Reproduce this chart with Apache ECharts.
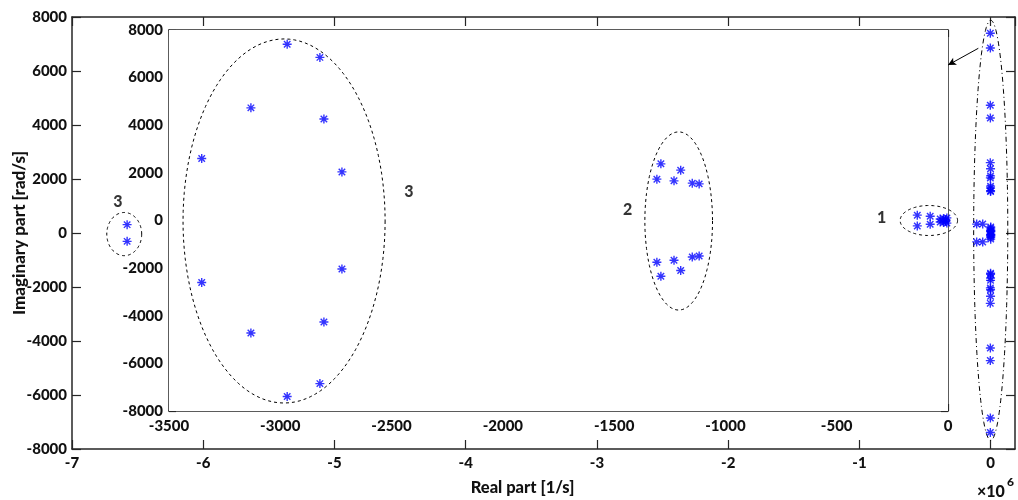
<!DOCTYPE html>
<html>
<head>
<meta charset="utf-8">
<script src="https://cdn.jsdelivr.net/npm/echarts@6/dist/echarts.min.js"></script>
<style>
html,body{margin:0;padding:0;background:#fff;}
#chart{width:1018px;height:500px;}
</style>
</head>
<body>
<div id="chart"></div>
<script>
// ---- data (real part [1/s], imaginary part [rad/s]) ----
const cluster3Poles = [
  [-2969, 7400], [-2822, 6850], [-3132, 4730], [-2804, 4260], [-3353, 2606], [-2723, 2040],
  [-2969, -7390], [-2822, -6850], [-3132, -4725], [-2804, -4262], [-3353, -2606], [-2723, -2034]
];
const cluster2Poles = [
  [-1290, 2380], [-1201, 2114], [-1308, 1736], [-1231, 1665], [-1149, 1568], [-1118, 1538],
  [-1290, -2341], [-1201, -2102], [-1308, -1753], [-1231, -1669], [-1149, -1530], [-1118, -1488]
];
const cluster1Poles = [
  [-138, 225], [-138, -227], [-80, 181], [-80, -155],
  [-35, 60], [-35, -60], [-20, 85], [-20, -85], [-10, 40], [-10, -40], [-5, 110], [-5, -110]
];
const farPoles = [
  [-6580000, 310], [-6580000, -310],
  [-107000, 330], [-61000, 330], [-107000, -330], [-61000, -330]
];
const outerScale = 1e6;
const outerXTicks = {min: -7, max: 0.185, step: 1};
const innerXTicks = {min: -3500, max: 0, step: 500};
const yTicks = {min: -8000, max: 8000, step: 2000};

// ellipses: [centerRe, centerIm, radiusRe, radiusIm]
const innerEllipses = [
  [-2983, -20, 454, 7645],
  [-1210, -20, 152, 3741],
  [-86, 0, 129, 630]
];
const outerEllipses = [
  [-6.602, -40, 0.133, 800]
];
const outerLensEllipse = [
  [0, 100, 0.13, 7780]
];
const innerNotes = [['3', -2422, 1202], ['2', -1439, 462], ['1', -298, 109]];
const outerNotes = [['3', -6.65, 1159]];
const arrowFrom = [-0.0945, 6841];
const arrowTo = [-0.325, 6222];

// ---- chart ----
const innerPoles = cluster3Poles.concat(cluster2Poles, cluster1Poles);
const outerPoles = innerPoles.concat(farPoles).map(p => [p[0] / outerScale, p[1]]);

const FONT = 'Lato';
const AX = '#262626';
const TXT = '#111';
const asterisk = 'path://M0,-5L0,5M-5,0L5,0M-3.6,-3.6L3.6,3.6M-3.6,3.6L3.6,-3.6';
const plain = v => String(v);

function labelStyle(extra) {
  return Object.assign({color: TXT, fontFamily: FONT, fontWeight: 900, fontSize: 15, formatter: plain}, extra || {});
}
function mkX(grid, t, pos, tickLen, showLabel, margin, extra) {
  return Object.assign({
    type: 'value', gridIndex: grid, position: pos, min: t.min, max: t.max, interval: t.step,
    axisLine: {show: true, onZero: false, lineStyle: {color: AX, width: 1.5}},
    axisTick: {show: true, inside: true, length: tickLen, lineStyle: {color: AX, width: 1.2}},
    axisLabel: Object.assign({show: showLabel, margin: margin, showMaxLabel: pos === 'bottom' && grid === 0 ? false : true}, labelStyle()),
    splitLine: {show: false}
  }, extra || {});
}
function mkY(grid, t, pos, tickLen, showLabel, margin, extra) {
  return Object.assign({
    type: 'value', gridIndex: grid, position: pos, min: t.min, max: t.max, interval: t.step,
    axisLine: {show: true, onZero: false, lineStyle: {color: AX, width: 1.5}},
    axisTick: {show: true, inside: true, length: tickLen, lineStyle: {color: AX, width: 1.2}},
    axisLabel: Object.assign({show: showLabel, margin: margin}, labelStyle()),
    splitLine: {show: false}
  }, extra || {});
}

function ellipseRender(dash) {
  return function (params, api) {
    const c = api.coord([api.value(0), api.value(1)]);
    const s = api.size([api.value(2), api.value(3)]);
    const pts = [];
    const n = 120;
    for (let i = 0; i < n; i++) {
      const t = i / n * Math.PI * 2;
      pts.push([c[0] + s[0] * Math.cos(t), c[1] + s[1] * Math.sin(t)]);
    }
    return {type: 'polygon', shape: {points: pts},
      style: {fill: 'none', stroke: '#000', lineWidth: 1, lineDash: dash}};
  };
}
function notesSeries(xi, yi, notes) {
  return {
    type: 'scatter', xAxisIndex: xi, yAxisIndex: yi, symbolSize: 0, silent: true, z: 5,
    data: notes.map(n => ({name: n[0], value: [n[1], n[2]]})),
    label: {show: true, position: 'inside', formatter: '{b}', color: '#000', fontFamily: FONT, fontWeight: 900, fontSize: 16}
  };
}
const scatterStyle = {color: 'rgba(0,0,0,0)', borderColor: '#0000ff', borderWidth: 1.4};

const chart = echarts.init(document.getElementById('chart'), null, {renderer: 'canvas'});
chart.setOption({
  animation: false,
  backgroundColor: '#fff',
  grid: [
    {left: 72, top: 17, right: 3, bottom: 51, show: false, containLabel: false, outerBoundsMode: 'none'},
    {left: 169, top: 30, right: 70, bottom: 89, show: true, backgroundColor: '#fff', borderWidth: 0, z: 1,
      containLabel: false, outerBoundsMode: 'none'}
  ],
  xAxis: [
    mkX(0, outerXTicks, 'bottom', 9, true, 7, {
      name: 'Real part [1/s]', nameLocation: 'middle', nameGap: 30, nameMoveOverlap: false,
      nameTextStyle: {color: TXT, fontFamily: FONT, fontWeight: 900, fontSize: 16.5, padding: [0, 42, 0, 0]}
    }),
    mkX(0, outerXTicks, 'top', 9, false, 7),
    mkX(1, innerXTicks, 'bottom', 7, true, 8),
    mkX(1, innerXTicks, 'top', 7, false, 8)
  ],
  yAxis: [
    mkY(0, yTicks, 'left', 9, true, 5, {
      name: 'Imaginary part [rad/s]', nameLocation: 'middle', nameGap: 44, nameRotate: 90, nameMoveOverlap: false,
      nameTextStyle: {color: TXT, fontFamily: FONT, fontWeight: 900, fontSize: 17}
    }),
    mkY(0, yTicks, 'right', 9, false, 5),
    mkY(1, yTicks, 'left', 7, true, 6),
    mkY(1, yTicks, 'right', 7, false, 6)
  ],
  graphic: [
    {type: 'text', left: 977, top: 484, z: 10, style: {text: '×10', fill: TXT, font: '900 16px Lato'}},
    {type: 'text', left: 1007, top: 476, z: 10, style: {text: '6', fill: TXT, font: '900 12px Lato'}}
  ],
  series: [
    {type: 'scatter', xAxisIndex: 0, yAxisIndex: 0, data: outerPoles, symbol: asterisk, symbolSize: 9,
      itemStyle: scatterStyle, z: 3,
      markLine: {silent: true, symbol: ['none', 'arrow'], symbolSize: [6, 8], label: {show: false},
        lineStyle: {color: '#000', width: 1, type: 'solid'},
        data: [[{coord: arrowFrom}, {coord: arrowTo}]]}},
    {type: 'custom', xAxisIndex: 0, yAxisIndex: 0, data: outerEllipses, renderItem: ellipseRender([3, 3]), silent: true, z: 2},
    {type: 'custom', xAxisIndex: 0, yAxisIndex: 0, data: outerLensEllipse, renderItem: ellipseRender([5, 3, 1, 3]), silent: true, z: 2},
    notesSeries(0, 0, outerNotes),
    {type: 'scatter', xAxisIndex: 2, yAxisIndex: 2, data: innerPoles, symbol: asterisk, symbolSize: 9,
      itemStyle: scatterStyle, z: 3},
    {type: 'custom', xAxisIndex: 2, yAxisIndex: 2, data: innerEllipses, renderItem: ellipseRender([3, 3]), silent: true, z: 2},
    notesSeries(2, 2, innerNotes)
  ]
});
</script>
</body>
</html>
